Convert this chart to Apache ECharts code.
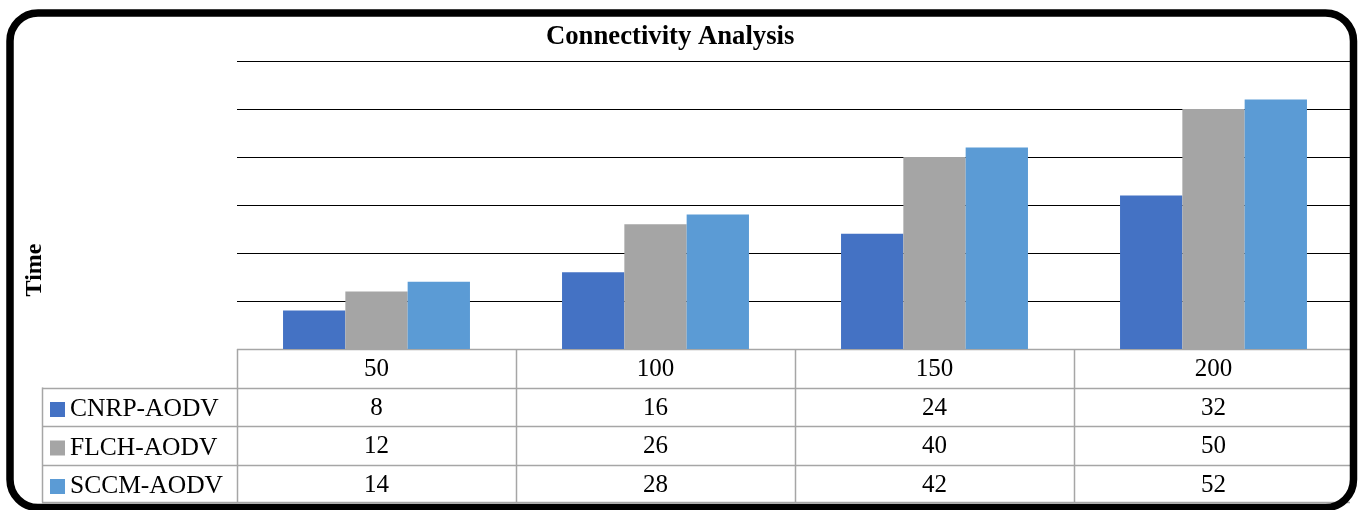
<!DOCTYPE html>
<html>
<head>
<meta charset="utf-8">
<script src="https://cdn.jsdelivr.net/npm/echarts@6/dist/echarts.min.js"></script>
<style>
  html, body { margin: 0; padding: 0; background: #fff; }
  #chart { width: 1359px; height: 510px; }
</style>
</head>
<body>
<div id="chart"></div>
<script>
// Node counts (categories) and connectivity time per protocol
const categories = ['50', '100', '150', '200'];
const seriesNames = ['CNRP-AODV', 'FLCH-AODV', 'SCCM-AODV'];
const cnrp = [8, 16, 24, 32];
const flch = [12, 26, 40, 50];
const sccm = [14, 28, 42, 52];
const seriesValues = [cnrp, flch, sccm];
const colors = ['#4472C4', '#A5A5A5', '#5B9BD5'];

const FONT = '"Liberation Serif", "Times New Roman", serif';
const TABLE_LINE = '#A6A6A6';

// layout of the plot and the data table under it
const W = 1359, H = 510;
const gridLeft = 237, gridRight = 1353, gridTop = 61, gridBottom = 349;
const rowH = 38.5;
const tableLeft = 42;
const tableRight = 1350;
const tableRows = seriesValues.length + 1; // header + one row per series
const tableBottom = Math.round(gridBottom + rowH * tableRows) - 0.5;

const chart = echarts.init(document.getElementById('chart'), null, { renderer: 'canvas' });

// one line-less axis per table row, each printing that row's values
const rowAxes = seriesValues.map((vals, r) => ({
  type: 'category',
  gridIndex: 0,
  position: 'bottom',
  offset: rowH * (r + 1),
  data: categories,
  axisLine: { show: false },
  axisTick: { show: false },
  axisLabel: {
    margin: rowH / 2 + 1.5,
    verticalAlign: 'middle',
    fontFamily: FONT,
    fontSize: 25,
    color: '#000',
    formatter: (v, i) => String(vals[i])
  }
}));

function ruleLine(x1, y1, x2, y2) {
  return {
    type: 'line', silent: true,
    shape: { x1, y1, x2, y2 },
    style: { stroke: TABLE_LINE, lineWidth: 1.5 }
  };
}

const option = {
  animation: false,
  backgroundColor: '#fff',
  color: colors,
  title: {
    text: 'Connectivity Analysis',
    left: 541,
    top: 19,
    textStyle: { fontFamily: FONT, fontSize: 26.7, fontWeight: 'bold', color: '#000' }
  },
  legend: {
    orient: 'vertical',
    left: 45,
    top: gridBottom + rowH + 4,
    itemWidth: 15,
    itemHeight: 15,
    itemGap: 12.5,
    icon: 'rect',
    data: seriesNames,
    textStyle: { fontFamily: FONT, fontSize: 25.5, color: '#000', padding: [0, 0, 0, 0], lineHeight: 26 },
    selectedMode: false
  },
  grid: {
    left: gridLeft,
    right: W - gridRight,
    top: gridTop,
    bottom: H - gridBottom,
    containLabel: false
  },
  xAxis: [
    {
      type: 'category',
      data: categories,
      axisLine: { show: false },
      axisTick: { show: false },
      axisLabel: {
        margin: rowH / 2 + 1,
        verticalAlign: 'middle',
        fontFamily: FONT,
        fontSize: 25,
        color: '#000'
      }
    }
  ].concat(rowAxes),
  yAxis: {
    type: 'value',
    min: 0,
    max: 60,
    interval: 10,
    axisLabel: { show: false },
    axisLine: { show: false },
    axisTick: { show: false },
    splitLine: { show: true, lineStyle: { color: '#000', width: 1 } }
  },
  series: seriesValues.map((vals, i) => ({
    name: seriesNames[i],
    type: 'bar',
    xAxisIndex: 0,
    data: vals,
    barGap: '0%',
    barCategoryGap: '33%',
    itemStyle: { color: colors[i] }
  }))
};

chart.setOption(option);

// data-table rules: header line, one under each row, legend column edge,
// and column separators on the category band edges
const graphics = [
  {
    type: 'text',
    silent: true,
    x: 35,
    y: 270,
    rotation: Math.PI / 2,
    style: {
      text: 'Time',
      fontFamily: FONT,
      fontSize: 24,
      fontWeight: 'bold',
      fill: '#000',
      align: 'center',
      verticalAlign: 'middle'
    }
  },
  ruleLine(gridLeft, gridBottom + 0.5, tableRight, gridBottom + 0.5)
];
for (let r = 1; r <= tableRows; r++) {
  const y = r === tableRows ? tableBottom : Math.round(gridBottom + rowH * r) + 0.5;
  graphics.push(ruleLine(tableLeft, y, tableRight, y));
}
graphics.push(ruleLine(tableLeft + 0.5, gridBottom + rowH, tableLeft + 0.5, tableBottom));

const xAt = (c) => chart.convertToPixel({ xAxisIndex: 0 }, c);
const band = xAt(categories[1]) - xAt(categories[0]);
categories.forEach((c) => {
  const x = Math.round(xAt(c) - band / 2) + 0.5;
  graphics.push(ruleLine(x, gridBottom, x, tableBottom));
});

// rounded outer frame
graphics.push({
  type: 'rect',
  silent: true,
  z: 100,
  shape: { x: 10, y: 13, width: 1343.5, height: 494.5, r: 28 },
  style: { fill: 'none', stroke: '#000', lineWidth: 7.5 }
});

chart.setOption({ graphic: graphics });
</script>
</body>
</html>
